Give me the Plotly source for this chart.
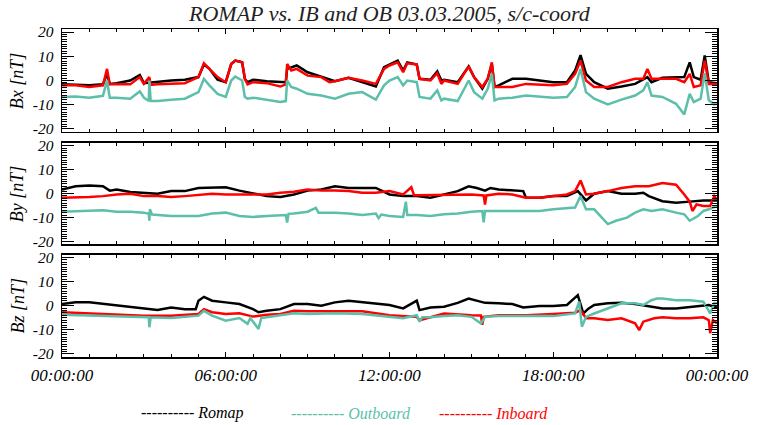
import plotly.graph_objects as go

FONT = "Liberation Serif, Times New Roman, serif"
BLACK = "#000000"
TEAL = "#5cbfaa"
RED = "#ff0000"

# ---------------- Bx ----------------
bx_romap_t = [0, 1, 1.5, 1.65, 1.75, 2, 2.5, 2.85, 3.0, 3.5, 4, 4.5, 5, 5.2, 5.4, 5.7, 6, 6.2, 6.35, 6.6, 6.7, 6.8,
              7, 7.5, 8, 8.2, 8.25, 8.6, 9, 9.5, 10, 10.5, 11, 11.5, 11.8, 12, 12.3, 12.5, 12.65, 13, 13.1, 13.5,
              13.75, 13.9, 14, 14.5, 14.9, 15.1, 15.4, 15.6, 15.75, 15.85, 16, 16.5, 17, 17.5, 18, 18.5, 18.8, 19,
              19.2, 19.5, 20, 20.5, 21, 21.45, 21.6, 22, 22.5, 22.8, 23, 23.15, 23.4, 23.55, 23.7, 24]
bx_romap_v = [-1.6, -2.0, -1.6, 2.7, -1.4, -1.1, 0.0, 2.3, -1.1, -0.4, 0.0, 0.3, 1.4, 6.6, 4.8, 0.3, -0.7, 6.8, 8.2,
              7.5, 0.7, -0.7, 0.3, -0.3, -0.7, -0.7, 4.8, 6.2, 3.4, 1.4, -0.3, 1.1, -0.7, -2.5, 5.5, 6.6, 8.2, 4.1,
              7.5, 6.6, 0.7, 0.3, 3.8, 0.0, 0.3, -0.7, 5.8, 1.4, -3.4, 0.7, 6.8, -2.7, -2.0, 0.7, 0.7, 0.0, -0.7,
              -0.7, 4.1, 10.5, 2.7, -0.7, -3.4, -2.5, -1.4, 1.4, -0.7, 1.1, 1.4, 1.4, 7.5, 1.4, 0.3, 10.3, -0.7,
              -1.1]

bx_ib_t = [0, 0.5, 1, 1.5, 1.65, 1.75, 2, 2.5, 2.85, 3.0, 3.2, 3.25, 3.5, 4, 4.5, 5, 5.2, 5.4, 5.7, 6, 6.2, 6.35,
           6.6, 6.7, 6.8, 7, 7.5, 8, 8.2, 8.25, 8.4, 8.6, 9, 9.5, 9.8, 10, 10.5, 11, 11.5, 11.8, 12, 12.3, 12.5,
           12.65, 13, 13.1, 13.5, 13.75, 13.9, 14, 14.5, 14.9, 15.1, 15.4, 15.6, 15.75, 15.85, 16, 16.5, 17, 17.5,
           18, 18.5, 18.8, 19, 19.2, 19.5, 20, 20.5, 21, 21.3, 21.45, 21.6, 22, 22.5, 22.8, 23, 23.15, 23.4, 23.55,
           23.7, 24]
bx_ib_v = [-2.0, -2.0, -2.7, -2.0, 4.8, -1.6, -1.6, -1.6, 1.4, -1.4, 1.4, -1.8, -1.6, -1.4, -1.1, 1.4, 7.1, 4.8,
           1.4, -0.7, 6.8, 8.2, 7.5, 0.7, -1.6, -0.7, -1.1, -2.5, -1.6, 6.8, 4.1, 4.8, 2.0, 1.4, -0.7, -0.3, 1.1,
           0.0, -1.4, 4.8, 6.2, 7.5, 3.4, 7.1, 6.6, 0.7, 0.0, 3.0, -1.4, 0.0, -1.4, 5.8, 1.4, -2.7, 0.7, 7.5, -2.7,
           -2.7, -2.7, -1.4, -1.6, -2.0, -1.4, 2.7, 8.2, 0.0, -2.7, -2.7, -0.7, 0.7, 0.7, 4.8, 0.7, 0.7, 0.7, -0.7,
           2.7, -2.7, -2.0, 8.2, -1.4, -1.4]

bx_ob_t = [0, 0.5, 1, 1.5, 1.65, 1.75, 2, 2.5, 2.85, 3.0, 3.18, 3.2, 3.25, 3.5, 4, 4.5, 5, 5.2, 5.4, 5.7, 6, 6.2,
           6.35, 6.6, 6.7, 6.8, 7, 7.5, 8, 8.2, 8.25, 8.4, 8.6, 9, 9.5, 10, 10.5, 11, 11.5, 11.8, 12, 12.3, 12.5,
           12.65, 13, 13.1, 13.5, 13.75, 13.9, 14, 14.5, 14.9, 15.1, 15.4, 15.6, 15.75, 15.85, 16, 16.5, 17, 17.5,
           18, 18.5, 18.8, 19, 19.2, 19.5, 20, 20.5, 21, 21.3, 21.45, 21.6, 22, 22.5, 22.8, 23, 23.15, 23.4, 23.55,
           23.7, 23.9, 24]
bx_ob_v = [-6.8, -6.6, -7.1, -6.3, 0.0, -7.1, -7.1, -7.5, -4.5, -7.1, -8.5, 0.0, -8.5, -8.5, -7.9, -7.5, -4.8, 0.7,
           -2.0, -5.5, -6.8, 0.0, 1.6, 0.0, -6.8, -7.5, -7.1, -7.9, -8.9, -8.5, 0.0, -2.7, -3.4, -5.5, -6.2, -7.5,
           -5.5, -4.8, -7.9, -2.0, 0.0, 1.4, -2.0, 0.0, -0.7, -6.8, -7.5, -4.1, -8.2, -7.5, -8.5, 0.0, -4.8, -7.5,
           -3.4, 2.7, -8.2, -7.5, -7.1, -6.2, -6.6, -7.1, -6.8, -2.7, 4.8, -4.8, -7.5, -9.9, -7.9, -6.2, -4.1, -0.7,
           -6.2, -6.8, -9.6, -14.0, -5.5, -8.9, -7.5, 3.0, -8.2, -9.9, -9.6]

# ---------------- By ----------------
by_romap_t = [0, 0.5, 1, 1.5, 1.75, 2, 2.5, 3, 3.5, 4, 4.5, 5, 5.5, 6, 6.5, 7, 7.5, 8, 8.5, 9, 9.5, 10, 10.5, 11,
              11.5, 12, 12.5, 13, 13.5, 14, 14.5, 14.9, 15.2, 15.5, 15.7, 16, 16.5, 16.9, 17.0, 17.5, 18, 18.5,
              18.9, 19.2, 19.5, 20, 20.5, 21, 21.3, 21.5, 22, 22.5, 23, 23.5, 24]
by_romap_v = [1.7, 3.0, 3.3, 3.0, 1.2, 1.7, 0.6, 0.3, -0.1, 1.0, 1.0, 2.3, 2.3, 2.6, 1.2, -0.1, -1.1, -1.5, -0.4,
              1.2, 1.7, 3.0, 2.3, 2.3, 2.3, -0.4, -1.1, -1.1, -1.8, -0.4, 1.0, 3.0, 2.3, 1.2, 2.3, 1.7, 1.2, 1.0,
              -1.8, -1.8, -1.1, -1.1, 1.0, -2.9, -0.1, 1.0, -0.1, -0.1, 0.3, -1.1, -3.2, -3.9, -3.4, -2.9, -2.9]

by_ib_t = [0, 0.5, 1, 1.5, 2, 2.5, 3, 3.5, 4, 4.5, 5, 5.5, 6, 6.5, 7, 7.5, 8, 8.5, 9, 9.5, 10, 10.5, 11, 11.5, 12,
           12.5, 12.8, 12.9, 13, 13.5, 14, 14.5, 15, 15.45, 15.5, 15.55, 16, 16.5, 17, 17.5, 18, 18.5, 18.8, 19,
           19.2, 19.5, 20, 20.5, 21, 21.5, 22, 22.5, 22.8, 23, 23.1, 23.25, 23.5, 23.75, 23.9, 24]
by_ib_v = [-1.8, -1.8, -1.5, -1.1, -0.4, -0.1, -1.1, -1.1, -1.5, -1.1, -0.7, -0.1, -0.4, -0.4, -0.4, -0.4, 0.3,
           0.7, 1.7, 1.2, 1.2, 1.0, 0.3, 0.3, 1.0, -0.4, 2.6, -0.7, -0.7, -0.7, -0.4, -0.4, -0.4, -0.8, -4.6,
           -0.8, -0.1, -0.4, -1.8, -1.8, -1.1, -0.4, 1.0, 5.4, -0.4, -0.1, 1.0, 2.3, 3.0, 3.0, 4.4, 3.7, -0.4,
           -3.4, -7.3, -4.6, -5.2, -5.2, -1.1, -2.5]

by_ob_t = [0, 0.5, 1, 1.5, 2, 2.5, 3, 3.18, 3.2, 3.22, 3.3, 3.5, 4, 4.5, 5, 5.5, 6, 6.5, 7, 7.5, 8, 8.2, 8.25, 8.3,
           8.5, 9, 9.3, 9.4, 9.5, 10, 10.5, 11, 11.5, 11.6, 11.7, 12, 12.5, 12.6, 12.65, 13, 13.5, 14, 14.5, 15,
           15.4, 15.45, 15.5, 16, 16.5, 17, 17.5, 18, 18.8, 19, 19.2, 19.5, 19.8, 20, 20.3, 20.7, 21, 21.3, 21.6,
           22, 22.5, 22.8, 23, 23.3, 23.5, 23.7, 24]
by_ob_v = [-7.6, -7.3, -7.3, -7.0, -7.6, -7.6, -8.0, -8.5, -11.4, -6.6, -8.8, -9.0, -9.4, -9.4, -9.4, -8.4, -8.0,
           -9.4, -9.8, -9.4, -9.0, -9.0, -12.1, -8.5, -8.4, -7.6, -6.0, -8.0, -8.0, -8.0, -8.4, -9.0, -8.4, -10.3,
           -8.8, -9.4, -9.8, -3.4, -9.0, -9.0, -9.4, -8.7, -8.4, -7.6, -7.3, -12.1, -7.3, -7.3, -7.6, -7.6, -7.3,
           -6.6, -5.9, -1.1, -6.6, -6.6, -10.1, -12.8, -11.4, -10.1, -8.0, -6.6, -7.3, -6.6, -8.0, -8.7, -11.4,
           -9.4, -7.3, -6.6, -5.2]

# ---------------- Bz ----------------
bz_romap_t = [0, 0.5, 1, 1.5, 2, 2.5, 3, 3.5, 4, 4.5, 4.9, 5.0, 5.2, 5.5, 6, 6.5, 7, 7.2, 7.5, 8, 8.5, 9, 9.5, 10,
              10.5, 11, 12, 12.5, 13, 13.1, 13.5, 14, 14.5, 14.9, 15.5, 16, 16.5, 16.9, 17.5, 18, 18.5, 18.9, 19.1,
              19.3, 19.5, 20, 20.5, 21, 21.5, 22, 22.5, 23, 23.5, 23.7, 24]
bz_romap_v = [0.7, 1.4, 1.4, 0.7, 0.0, -0.7, -1.4, -1.8, -0.7, -1.4, -1.4, 2.1, 3.7, 2.1, 1.4, 0.7, -1.4, -2.7,
              -2.1, -1.4, 0.7, 0.7, 0.0, 1.4, 2.1, 1.4, 0.3, -1.1, 2.1, -1.8, -0.7, -0.4, 1.2, 3.0, 1.2, 1.0, 0.7,
              -0.7, -0.1, -0.1, 0.3, 4.4, -3.2, -1.1, 0.3, 1.0, 1.2, 0.7, -0.1, -1.1, -1.1, -0.4, 0.3, 0.3, -0.7]

bz_ib_t = [0, 1, 2, 3, 4, 5, 5.2, 5.5, 6, 6.5, 7, 7.5, 8, 8.5, 9, 10, 11, 12, 13, 13.1, 14, 15, 15.35, 15.4, 15.45,
           16, 17, 18, 18.8, 19, 19.2, 19.5, 20, 20.5, 21, 21.15, 21.3, 21.7, 22, 22.5, 23, 23.5, 23.7, 23.75,
           23.85, 24]
bz_ib_v = [-2.7, -3.1, -3.7, -4.1, -4.1, -3.4, -1.4, -2.7, -3.4, -3.1, -4.5, -3.7, -3.4, -2.1, -2.3, -2.3, -2.3,
           -3.9, -4.6, -6.0, -3.2, -3.9, -4.0, -7.9, -4.6, -3.9, -3.9, -3.4, -2.9, -1.8, -5.2, -5.2, -5.9, -5.2,
           -7.3, -10.1, -6.6, -5.2, -4.8, -5.2, -5.2, -4.8, -6.0, -11.4, -5.9, -7.3]

bz_ob_t = [0, 1, 2, 3, 3.18, 3.2, 3.25, 4, 5, 5.2, 5.5, 6, 6.5, 6.8, 6.9, 7.2, 7.3, 7.5, 8, 8.5, 9, 10, 11, 12,
           12.5, 13, 13.1, 13.2, 13.5, 14, 14.5, 15, 15.35, 15.5, 16, 17, 18, 18.8, 18.95, 19.05, 19.2, 19.5, 20,
           20.5, 21, 21.3, 21.6, 21.8, 22, 22.5, 23, 23.5, 23.75, 23.9, 24]
bz_ob_v = [-3.7, -4.1, -4.5, -4.8, -4.8, -8.9, -4.8, -5.1, -4.1, -2.1, -4.1, -6.2, -5.1, -7.5, -5.1, -9.6, -5.1,
           -4.8, -4.1, -3.1, -3.4, -3.1, -3.4, -4.8, -5.2, -3.9, -6.6, -4.8, -4.8, -4.3, -3.9, -4.6, -7.3, -4.6,
           -4.3, -4.3, -4.3, -3.2, 1.7, -8.7, -4.6, -3.2, -1.1, 1.0, 1.0, 0.3, 2.3, 3.0, 3.0, 2.3, 2.3, 1.7, -3.2,
           1.0, 1.0]

panel_labels = ["Bx [nT]", "By [nT]", "Bz [nT]"]
x_tickvals = [0, 6, 12, 18, 24]
x_ticktext = ["00:00:00", "06:00:00", "12:00:00", "18:00:00", "00:00:00"]
y_tickvals = [-20, -10, 0, 10, 20]
y_ticktext = ["-20", "-10", "0", "10", "20"]
title_text = "ROMAP vs. IB and OB 03.03.2005, s/c-coord"
legend_names = ["Romap", "Outboard", "Inboard"]

panels = [
    (bx_romap_t, bx_romap_v, bx_ib_t, bx_ib_v, bx_ob_t, bx_ob_v),
    (by_romap_t, by_romap_v, by_ib_t, by_ib_v, by_ob_t, by_ob_v),
    (bz_romap_t, bz_romap_v, bz_ib_t, bz_ib_v, bz_ob_t, bz_ob_v),
]

fig = go.Figure()
LW = 2.5
for i, (rt, rv, it, iv, ot, ov) in enumerate(panels):
    xa = "x" if i == 0 else f"x{i+1}"
    ya = "y" if i == 0 else f"y{i+1}"
    fig.add_trace(go.Scatter(x=rt, y=rv, mode="lines", line=dict(color=BLACK, width=LW),
                             xaxis=xa, yaxis=ya, showlegend=False, hoverinfo="skip"))
    fig.add_trace(go.Scatter(x=it, y=iv, mode="lines", line=dict(color=RED, width=LW),
                             xaxis=xa, yaxis=ya, showlegend=False, hoverinfo="skip"))
    fig.add_trace(go.Scatter(x=ot, y=ov, mode="lines", line=dict(color=TEAL, width=LW),
                             xaxis=xa, yaxis=ya, showlegend=False, hoverinfo="skip"))

domains = [[0.686, 1.0], [0.3435, 0.6535], [0.0, 0.3125]]

layout = dict(
    width=761, height=425,
    margin=dict(l=62, r=33, t=29, b=68),
    paper_bgcolor="white", plot_bgcolor="white",
    font=dict(family=FONT, size=16, color="black"),
    showlegend=False,
)

for i in range(3):
    xk = "xaxis" if i == 0 else f"xaxis{i+1}"
    yk = "yaxis" if i == 0 else f"yaxis{i+1}"
    ya = "y" if i == 0 else f"y{i+1}"
    xa = "x" if i == 0 else f"x{i+1}"
    layout[xk] = dict(
        domain=[0, 1], anchor=ya, range=[0, 24],
        tickvals=x_tickvals, ticktext=x_ticktext, showticklabels=(i == 2),
        ticks="inside", ticklen=5, tickwidth=1, tickcolor="black",
        minor=dict(dtick=1, tick0=0, ticks="inside", ticklen=3, tickcolor="black", tickwidth=1),
        showline=True, linecolor="black", linewidth=1.5, mirror="allticks",
        showgrid=False, zeroline=False,
        tickfont=dict(family=FONT, size=17, style="italic", color="black"),
        ticklabelstandoff=2,
    )
    if i < 2:
        layout[xk]["matches"] = "x3"
    layout[yk] = dict(
        domain=domains[i], anchor=xa, range=[-21.25, 21.25],
        tickvals=y_tickvals, ticktext=y_ticktext,
        ticks="inside", ticklen=12, tickwidth=1, tickcolor="black",
        minor=dict(dtick=1, tick0=0, ticks="inside", ticklen=5, tickcolor="black", tickwidth=1),
        showline=True, linecolor="black", linewidth=1.5, mirror="allticks",
        showgrid=False, zeroline=False,
        tickfont=dict(family=FONT, size=15.5, style="italic", color="black"),
        ticklabelstandoff=4,
    )

fig.update_layout(**layout)

annotations = [
    dict(text="<i>" + title_text + "</i>", x=0.5, y=1.0, xref="paper", yref="paper",
         xanchor="center", yanchor="bottom", yshift=1, showarrow=False,
         font=dict(family=FONT, size=22, color="#222222")),
]
ycent = [(d[0] + d[1]) / 2 for d in domains]
for lab, yc in zip(panel_labels, ycent):
    annotations.append(dict(text="<i>" + lab + "</i>", x=-0.0676, y=yc, xref="paper", yref="paper",
                            xanchor="center", yanchor="middle", textangle=-90, showarrow=False,
                            font=dict(family=FONT, size=18, color="black")))

leg_colors = [BLACK, TEAL, RED]
leg_x = [195, 356, 501]
for name, col, lx in zip(legend_names, leg_colors, leg_x):
    annotations.append(dict(text="<i>---------- " + name + "</i>", x=(lx - 62) / 666, y=-56 / 328,
                            xref="paper", yref="paper", xanchor="center", yanchor="middle",
                            showarrow=False, font=dict(family=FONT, size=16, color=col)))

fig.update_layout(annotations=annotations)
fig.write_html("out.html", config={"displayModeBar": False, "staticPlot": True},
               post_script="document.body.style.margin='0';document.body.style.padding='0';")
